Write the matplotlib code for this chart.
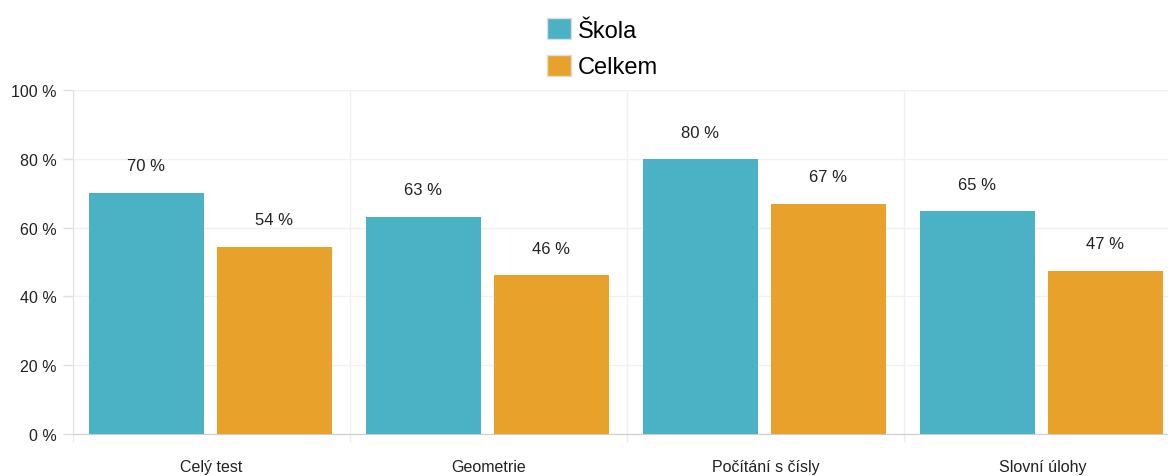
import numpy as np
import matplotlib
matplotlib.use("Agg")
import matplotlib.pyplot as plt
from matplotlib.patches import Patch

categories = ["Celý test", "Geometrie", "Počítání s čísly", "Slovní úlohy"]
skola = [70.1, 63.1, 79.9, 64.8]
celkem = [54.4, 46.2, 66.9, 47.4]
yticks = [0, 20, 40, 60, 80, 100]
series_names = ["Škola", "Celkem"]

c_skola = "#4bb1c5"
c_celkem = "#e8a22b"

plt.rcParams["font.family"] = ["Liberation Sans", "DejaVu Sans"]

fig = plt.figure(figsize=(11.68, 4.77), dpi=100)
ax = fig.add_axes([73 / 1168, 42 / 477, 1108 / 1168, 344 / 477])

x = np.arange(len(categories))
w = 0.415
b1 = ax.bar(x - 0.235, skola, width=w, color=c_skola, zorder=3)
b2 = ax.bar(x + 0.227, celkem, width=w, color=c_celkem, zorder=3)

for bars, vals in ((b1, skola), (b2, celkem)):
    for rect, v in zip(bars, vals):
        ax.annotate(f"{round(v)} %", (rect.get_x() + rect.get_width() / 2, v),
                    xytext=(0, 14), textcoords="offset points",
                    ha="center", va="bottom", fontsize=12, color="#222222")

ax.set_xlim(-0.5, len(categories) - 0.5)
ax.set_ylim(0, 100)
ax.set_yticks(yticks)
ax.set_yticklabels([f"{t} %" for t in yticks])
ax.set_xticks(x)
ax.set_xticklabels(categories)
ax.set_xticks(np.arange(-0.5, len(categories), 1.0), minor=True)

ax.tick_params(axis="y", length=7, width=1, color="#dddddd", labelsize=11.5,
               labelcolor="#222222", pad=5)
ax.tick_params(axis="x", which="major", length=0, labelsize=11.5,
               labelcolor="#222222", pad=18)
ax.tick_params(axis="x", which="minor", length=6, width=1, color="#eeeeee")

ax.grid(axis="y", color="#f0f0f0", linewidth=1, zorder=0)
ax.grid(axis="x", which="minor", color="#f0f0f0", linewidth=1, zorder=0)
ax.axhline(100, color="#dddddd", linewidth=1.5, zorder=1)

for s in ("top", "right"):
    ax.spines[s].set_visible(False)
ax.spines["left"].set_color("#e0e0e0")
ax.spines["bottom"].set_color("#cccccc")

handles = [Patch(facecolor=c_skola, edgecolor="#dddddd"),
           Patch(facecolor=c_celkem, edgecolor="#dddddd")]
fig.legend(handles, series_names, loc="upper center", bbox_to_anchor=(0.516, 1.005),
           ncol=1, frameon=False, fontsize=17, handlelength=1.0, handleheight=1.0,
           handletextpad=0.3, labelspacing=0.55)

fig.savefig("out.png", dpi=100)
